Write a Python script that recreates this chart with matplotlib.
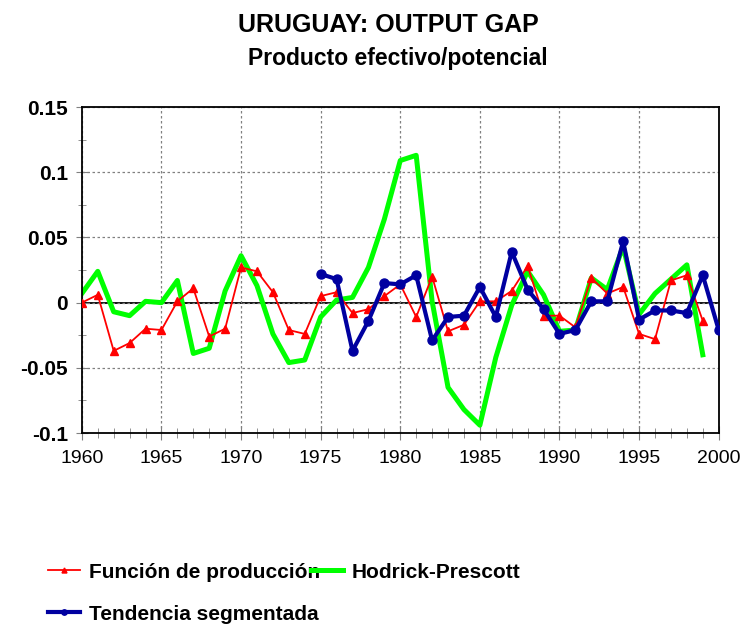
import numpy as np
import matplotlib
matplotlib.use("Agg")
import matplotlib.pyplot as plt
from matplotlib.ticker import MultipleLocator
from matplotlib import font_manager

# ===============================
# data
# ===============================
years_fp = list(range(1960, 2000))
funcion_produccion = [0.000, 0.006, -0.037, -0.031, -0.020, -0.021, 0.001, 0.011, -0.026, -0.020,
                      0.027, 0.024, 0.008, -0.021, -0.024, 0.005, 0.008, -0.008, -0.005, 0.005,
                      0.014, -0.011, 0.020, -0.022, -0.017, 0.001, 0.001, 0.009, 0.028, -0.010,
                      -0.010, -0.019, 0.019, 0.007, 0.012, -0.024, -0.028, 0.017, 0.021, -0.014]

years_hp = list(range(1960, 2000))
hodrick_prescott = [0.007, 0.024, -0.007, -0.010, 0.001, 0.000, 0.017, -0.039, -0.035, 0.009,
                    0.036, 0.013, -0.024, -0.046, -0.044, -0.011, 0.002, 0.004, 0.027, 0.064,
                    0.109, 0.113, 0.001, -0.065, -0.082, -0.094, -0.042, -0.002, 0.024, 0.006,
                    -0.022, -0.021, 0.019, 0.010, 0.043, -0.009, 0.007, 0.018, 0.029, -0.040]

years_ts = list(range(1975, 2001))
tendencia_segmentada = [0.022, 0.018, -0.037, -0.014, 0.015, 0.014, 0.021, -0.029, -0.011, -0.010,
                        0.012, -0.011, 0.039, 0.010, -0.005, -0.024, -0.021, 0.001, 0.001, 0.047,
                        -0.013, -0.006, -0.006, -0.008, 0.021, -0.021]

# ===============================
# fonts
# ===============================
names = {f.name for f in font_manager.fontManager.ttflist}
base_font = "Liberation Sans" if "Liberation Sans" in names else "DejaVu Sans"
narrow_font = "Liberation Sans Narrow" if "Liberation Sans Narrow" in names else base_font
plt.rcParams["font.family"] = [base_font, "DejaVu Sans"]

# ===============================
# plot
# ===============================
fig = plt.figure(figsize=(7.44, 6.28), dpi=100)
ax = fig.add_axes([0.110, 0.3105, 0.856, 0.519])

ax.axhline(0, color="black", lw=1.3, zorder=1)

l_fp, = ax.plot(years_fp, funcion_produccion, color="#FF0000", lw=1.3,
                marker="^", markersize=6, zorder=3, label="Función de producción")
l_hp, = ax.plot(years_hp, hodrick_prescott, color="#00FF00", lw=3.6,
                zorder=2, label="Hodrick-Prescott")
l_ts, = ax.plot(years_ts, tendencia_segmentada, color="#0000A0", lw=3.0,
                marker="o", markersize=6.5, zorder=4, label="Tendencia segmentada")

ax.set_xlim(1960, 2000)
ax.set_ylim(-0.1, 0.15)
ax.xaxis.set_major_locator(MultipleLocator(5))
ax.xaxis.set_minor_locator(MultipleLocator(1))
ax.yaxis.set_minor_locator(MultipleLocator(0.025))
ax.set_yticks([-0.1, -0.05, 0, 0.05, 0.1, 0.15])
ax.set_yticklabels(["-0.1", "-0.05", "0", "0.05", "0.1", "0.15"])

ax.grid(True, which="major", color="#808080", linestyle=(0, (2, 2)), lw=0.9)
ax.tick_params(axis="both", which="both", direction="inout", color="#808080")
ax.tick_params(axis="y", which="major", length=8, pad=6)
ax.tick_params(axis="y", which="minor", length=6)
ax.tick_params(axis="x", which="major", length=10, pad=7)
ax.tick_params(axis="x", which="minor", length=7)
for lab in ax.get_yticklabels():
    lab.set_fontsize(15)
    lab.set_fontweight("bold")
for lab in ax.get_xticklabels():
    lab.set_fontsize(14)
    lab.set_family(narrow_font)
for sp in ax.spines.values():
    sp.set_color("black")
    sp.set_linewidth(1.3)

fig.text(0.522, 0.960, "URUGUAY: OUTPUT GAP", ha="center", va="center",
         fontsize=18, fontweight="bold")
fig.text(0.535, 0.907, "Producto efectivo/potencial", ha="center", va="center",
         fontsize=16.5, fontweight="bold")

leg = fig.legend(handles=[l_fp, l_ts, l_hp], loc="upper left",
                 bbox_to_anchor=(0.065, 0.104), bbox_transform=fig.transFigure,
                 ncol=2, frameon=False, prop={"weight": "bold", "size": 15},
                 handlelength=1.5, handletextpad=0.43, columnspacing=-0.4,
                 labelspacing=1.1, borderpad=0, borderaxespad=0, markerscale=0.6)

fig.savefig("out.png", dpi=100)
